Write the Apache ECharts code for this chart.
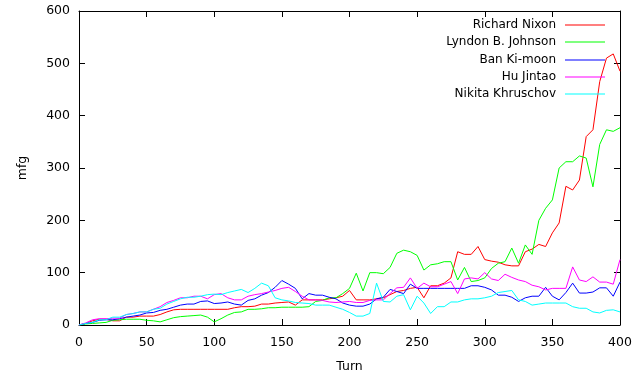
<!DOCTYPE html>
<html>
<head>
<meta charset="utf-8">
<script src="https://cdn.jsdelivr.net/npm/echarts@6/dist/echarts.min.js"></script>
<style>
  html, body { margin: 0; padding: 0; background: #fff; }
  #chart { width: 640px; height: 378px; }
</style>
</head>
<body>
<div id="chart"></div>
<script>
// turns sampled every 5
const turns = [];
for (let t = 0; t <= 400; t += 5) turns.push(t);

const names = ['Richard Nixon', 'Lyndon B. Johnson', 'Ban Ki-moon', 'Hu Jintao', 'Nikita Khruschov'];
const colors = ['#ff0000', '#00ff00', '#0000ff', '#ff00ff', '#00ffff'];

const nixon = [0, 3, 8, 11, 11, 8, 8, 15, 15, 17, 17, 17, 20, 25, 29, 30, 30, 30, 30, 30,
  30, 30, 30, 33, 35, 35, 36, 40, 40, 42, 43, 44, 38, 48, 48, 48, 48, 50, 52, 55,
  66, 48, 48, 48, 50, 52, 58, 64, 66, 70, 72, 52, 75, 75, 80, 90, 140, 135, 135, 150,
  125, 122, 120, 115, 113, 113, 140, 145, 154, 150, 176, 195, 265, 258, 277, 360, 373, 465, 510, 518, 485];
const johnson = [0, 2, 3, 4, 5, 9, 10, 11, 11, 11, 9, 8, 6, 10, 14, 16, 17, 18, 19, 15,
  6, 12, 19, 24, 25, 30, 30, 31, 33, 33, 34, 34, 34, 34, 35, 45, 47, 52, 52, 60,
  70, 99, 65, 100, 100, 98, 110, 137, 143, 140, 133, 105, 115, 117, 121, 121, 86, 110, 83, 85,
  90, 108, 118, 121, 147, 118, 153, 135, 200, 223, 239, 300, 312, 312, 323, 319, 264, 345, 373, 370, 377];
const banKiMoon = [0, 3, 5, 9, 10, 10, 12, 15, 17, 19, 23, 24, 28, 30, 34, 38, 40, 40, 45, 46,
  41, 42, 44, 40, 38, 47, 50, 57, 62, 72, 85, 78, 70, 50, 60, 57, 57, 53, 50, 42,
  38, 36, 36, 40, 50, 53, 68, 64, 60, 78, 70, 70, 70, 70, 70, 70, 70, 70, 75, 75,
  72, 67, 57, 57, 53, 45, 52, 55, 55, 72, 55, 48, 62, 80, 61, 61, 63, 71, 71, 55, 82];
const huJintao = [0, 4, 10, 12, 12, 13, 13, 20, 22, 25, 25, 30, 35, 43, 47, 52, 52, 55, 55, 50,
  58, 60, 52, 48, 48, 55, 58, 60, 63, 66, 70, 72, 64, 55, 48, 48, 47, 44, 43, 44,
  45, 43, 43, 47, 48, 48, 60, 71, 72, 90, 70, 80, 73, 73, 78, 83, 60, 88, 90, 88,
  100, 88, 85, 97, 91, 86, 83, 76, 73, 67, 70, 70, 70, 111, 86, 83, 92, 82, 82, 78, 125];
const khruschov = [0, 3, 5, 10, 10, 15, 15, 20, 22, 25, 25, 30, 32, 40, 45, 50, 53, 53, 55, 58,
  59, 58, 62, 65, 68, 62, 70, 80, 75, 52, 48, 46, 43, 42, 41, 38, 38, 38, 34, 30,
  24, 17, 17, 22, 80, 45, 44, 55, 58, 29, 55, 42, 22, 35, 35, 44, 44, 48, 50, 50,
  52, 55, 62, 64, 66, 48, 45, 38, 40, 42, 42, 42, 42, 35, 32, 32, 25, 23, 28, 29, 25];

const seriesValues = [nixon, johnson, banKiMoon, huJintao, khruschov];
const legendTops = [19, 36, 54, 71, 88];

const font = 'DejaVu Sans, sans-serif';
const fs = 12.5;
const chart = echarts.init(document.getElementById('chart'));

const axisCommon = {
  type: 'value',
  axisLine: { show: true, onZero: false, lineStyle: { color: '#000', width: 1 } },
  axisTick: { show: true, inside: true, length: 6, lineStyle: { color: '#000' } },
  splitLine: { show: false }
};

chart.setOption({
  animation: false,
  grid: { left: 79, right: 20, top: 11, bottom: 53 },
  // one legend per entry so the line samples line up on the right, gnuplot style
  legend: names.map((n, i) => ({
    data: [n],
    right: 35,
    top: legendTops[i],
    icon: 'rect',
    itemWidth: 40,
    itemHeight: 1.2,
    itemGap: 0,
    align: 'right',
    padding: 0,
    textStyle: { fontFamily: font, fontSize: 12, color: '#000', padding: [0, 4, 0, 0] }
  })),
  xAxis: [
    Object.assign({}, axisCommon, {
      position: 'bottom', min: 0, max: 400, interval: 50,
      name: 'Turn', nameLocation: 'middle', nameGap: 35,
      nameTextStyle: { fontFamily: font, fontSize: fs, color: '#000' },
      axisLabel: { fontFamily: font, fontSize: fs, color: '#000', margin: 11 }
    }),
    Object.assign({}, axisCommon, {
      position: 'top', min: 0, max: 400, interval: 50,
      axisLabel: { show: false }
    })
  ],
  yAxis: [
    Object.assign({}, axisCommon, {
      position: 'left', min: 0, max: 600, interval: 100,
      name: 'mfg', nameLocation: 'middle', nameGap: 50, nameRotate: 90,
      nameTextStyle: { fontFamily: font, fontSize: fs, color: '#000' },
      axisLabel: { fontFamily: font, fontSize: fs, color: '#000', margin: 9 }
    }),
    Object.assign({}, axisCommon, {
      position: 'right', min: 0, max: 600, interval: 100,
      axisLabel: { show: false }
    })
  ],
  series: names.map((n, i) => ({
    name: n,
    type: 'line',
    xAxisIndex: 0,
    yAxisIndex: 0,
    symbol: 'none',
    color: colors[i],
    lineStyle: { width: 1, color: colors[i] },
    data: turns.map((t, k) => [t, seriesValues[i][k]])
  }))
});
</script>
</body>
</html>
